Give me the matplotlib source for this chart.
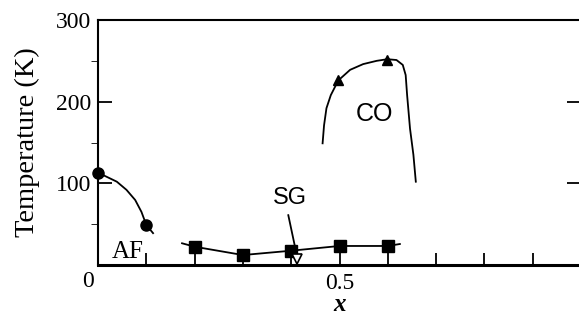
import numpy as np
import matplotlib.pyplot as plt

plt.rcParams['font.family'] = ['Liberation Serif', 'DejaVu Serif']

# measured points
af_x = [0.0, 0.1]
af_T = [113, 49]
sg_x = [0.2, 0.3, 0.4, 0.5, 0.6]
sg_T = [22.4, 12.2, 17.5, 23.3, 23.3]
co_x = [0.4975, 0.599]
co_T = [226, 251]

# hand-drawn guide curves
af_line_x = [0.0, 0.018, 0.039, 0.059, 0.077, 0.090, 0.1, 0.114]
af_line_T = [113, 108, 102, 92, 79.6, 65, 49, 39]
sg_line_x = [0.174, 0.2, 0.3, 0.4, 0.5, 0.6, 0.625]
sg_line_T = [26.6, 22.4, 12.2, 17.5, 23.3, 23.3, 25.7]
co_line_x = [0.465, 0.468, 0.473, 0.482, 0.4975, 0.522, 0.549, 0.577, 0.599,
             0.618, 0.631, 0.637, 0.640, 0.646, 0.653, 0.658]
co_line_T = [149, 171, 192, 208, 226, 239, 246, 250, 252,
             251, 245, 232.6, 208, 167, 135, 102]

fig = plt.figure(figsize=(5.79, 3.23), dpi=100)
ax = fig.add_axes([98 / 579, 58 / 323, 483 / 579, 245 / 323])

ax.plot(af_line_x, af_line_T, color='black', lw=1.3)
ax.plot(sg_line_x, sg_line_T, color='black', lw=1.3)
ax.plot(co_line_x, co_line_T, color='black', lw=1.3)

ax.plot(af_x, af_T, 'o', color='black', ms=8, clip_on=False, zorder=5)
ax.plot(sg_x, sg_T, 's', color='black', ms=8, zorder=5)
ax.plot(co_x, co_T, '^', color='black', ms=6.5, zorder=5)

# SG pointer
ax.plot([0.394, 0.413], [61, 8], color='black', lw=1.3, zorder=4)
ax.plot([0.413], [7], 'v', mfc='white', mec='black', ms=7, mew=1.2, zorder=6)

ax.text(0.061, 16.5, 'AF', fontsize=18, ha='center', va='center')
ax.text(0.397, 82, 'SG', fontsize=17, ha='center', va='center',
        family=['Liberation Sans', 'DejaVu Sans'])
ax.text(0.572, 185, 'CO', fontsize=18, ha='center', va='center',
        family=['Liberation Sans', 'DejaVu Sans'])

ax.set_xlim(0, 1.0)
ax.set_ylim(0, 300)
xt = np.arange(0, 1.01, 0.1)
ax.set_xticks(xt)
ax.set_xticklabels(['0.5' if abs(t - 0.5) < 1e-6 else '' for t in xt])
ax.set_yticks([100, 200, 300])
ax.set_yticklabels(['100', '200', '300'])
ax.set_yticks([50, 150, 250], minor=True)
ax.tick_params(axis='both', direction='in', labelsize=17, width=1.3)
ax.tick_params(axis='x', length=9, pad=6)
ax.tick_params(axis='y', which='major', length=10, right=True, pad=5)
ax.tick_params(axis='y', which='minor', length=5, right=True)
ax.text(-0.02, -20.5, '0', fontsize=17, ha='center', va='center', clip_on=False)

for side in ['left', 'top', 'right']:
    ax.spines[side].set_linewidth(1.5)
ax.spines['bottom'].set_linewidth(2.2)

ax.set_xlabel('x', fontsize=18, fontweight='bold', style='italic', labelpad=-1)
ax.set_ylabel('Temperature (K)', fontsize=20.5, labelpad=11)

fig.savefig('out.png', dpi=100)
